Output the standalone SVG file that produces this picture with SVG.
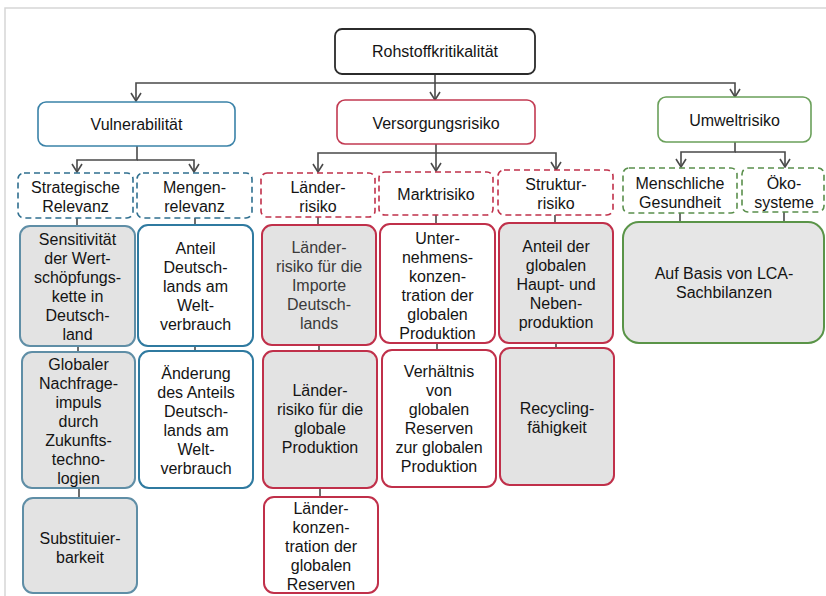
<svg xmlns="http://www.w3.org/2000/svg" width="826" height="596" viewBox="0 0 826 596">
<defs>
<style>
text{font-family:"Liberation Sans",Arial,sans-serif;font-size:16px;fill:#141414;text-anchor:middle}
.conn path{fill:none;stroke:#4a4a4a;stroke-width:1.6}
.root{fill:#fff;stroke:#2b2b2b;stroke-width:1.8}
.mb{fill:#fff;stroke:#3a82a8;stroke-width:1.6}
.mr{fill:#fff;stroke:#c23a52;stroke-width:1.6}
.mg{fill:#fff;stroke:#6aa05a;stroke-width:1.6}
.db{fill:#fff;stroke:#2f6f8f;stroke-width:1.6;stroke-dasharray:6 4}
.dr{fill:#fff;stroke:#c0304a;stroke-width:1.6;stroke-dasharray:6 4}
.dg{fill:#fff;stroke:#5a8f4c;stroke-width:1.6;stroke-dasharray:6 4}
.bw{fill:#fff;stroke:#2f7aa0;stroke-width:2}
.bg{fill:#e3e3e3;stroke:#5f8ea6;stroke-width:2}
.rw{fill:#fff;stroke:#c0304a;stroke-width:2}
.rg{fill:#e3e3e3;stroke:#c0304a;stroke-width:2}
.gg{fill:#e6e6e6;stroke:#5a9448;stroke-width:2}
</style>
<marker id="arr" viewBox="0 0 10 12" refX="9" refY="6" markerWidth="10" markerHeight="12" markerUnits="userSpaceOnUse" orient="auto">
<path d="M1,1 L9,6 L1,11" fill="none" stroke="#4a4a4a" stroke-width="1.6"/>
</marker>
</defs>
<rect x="0" y="0" width="826" height="596" fill="#fff"/>
<rect x="5" y="8" width="840" height="600" fill="none" stroke="#d6d6d6" stroke-width="1.5"/>

<g class="conn">
<path d="M435,74 V83 H136 V101" marker-end="url(#arr)"/>
<path d="M435,83 V100" marker-end="url(#arr)"/>
<path d="M435,83 H735 V97" marker-end="url(#arr)"/>
<path d="M137,146 V160 H77 V172" marker-end="url(#arr)"/>
<path d="M137,160 H194 V172" marker-end="url(#arr)"/>
<path d="M436,144 V153 H318 V172" marker-end="url(#arr)"/>
<path d="M436,153 V171" marker-end="url(#arr)"/>
<path d="M436,153 H556 V170" marker-end="url(#arr)"/>
<path d="M735,142 V152 H681 V167" marker-end="url(#arr)"/>
<path d="M735,152 H785 V167" marker-end="url(#arr)"/>
<path d="M77,218 V226 M78,346 V352 M79,488 V498"/>
<path d="M195,218 V225 M195,346 V351"/>
<path d="M318,216 V225 M319,345 V351 M320,488 V497"/>
<path d="M436,215 V224 M437,343 V350"/>
<path d="M555,215 V223 M556,343 V348"/>
<path d="M680,213 V222 M784,212 V222"/>
</g>

<g id="root"><rect class="root" x="335" y="29" width="200" height="45" rx="7"/><text x="435" y="57">Rohstoffkritikalität</text></g>
<g id="vulnerabilitaet"><rect class="mb" x="38" y="102" width="197" height="44" rx="8"/><text x="136.5" y="130">Vulnerabilität</text></g>
<g id="versorgungsrisiko"><rect class="mr" x="337" y="100" width="198" height="44" rx="8"/><text x="436" y="128.5">Versorgungsrisiko</text></g>
<g id="umweltrisiko"><rect class="mg" x="658" y="97" width="153" height="45" rx="8"/><text x="734.5" y="125.5">Umweltrisiko</text></g>

<g id="strategische"><rect class="db" x="18" y="173" width="115" height="45" rx="6"/><text x="75.5" y="192.5"><tspan x="75.5">Strategische</tspan><tspan x="75.5" dy="19">Relevanz</tspan></text></g>
<g id="mengen"><rect class="db" x="137" y="173" width="115" height="45" rx="6"/><text x="194.5" y="192.5"><tspan x="194.5">Mengen-</tspan><tspan x="194.5" dy="19">relevanz</tspan></text></g>
<g id="laenderrisiko"><rect class="dr" x="261" y="173" width="114" height="44" rx="6"/><text x="318" y="192.5"><tspan x="318">Länder-</tspan><tspan x="318" dy="19">risiko</tspan></text></g>
<g id="marktrisiko"><rect class="dr" x="379" y="172" width="114" height="43" rx="6"/><text x="436" y="199.5">Marktrisiko</text></g>
<g id="strukturrisiko"><rect class="dr" x="498" y="170" width="115" height="45" rx="6"/><text x="556" y="189.5"><tspan x="556">Struktur-</tspan><tspan x="556" dy="19">risiko</tspan></text></g>
<g id="gesundheit"><rect class="dg" x="623" y="168" width="114" height="45" rx="6"/><text x="680" y="188.5"><tspan x="680">Menschliche</tspan><tspan x="680" dy="19">Gesundheit</tspan></text></g>
<g id="oekosysteme"><rect class="dg" x="742" y="168" width="82" height="44" rx="6"/><text x="784" y="188.5"><tspan x="784">Öko-</tspan><tspan x="784" dy="19">systeme</tspan></text></g>

<g id="sensitivitaet"><rect class="bg" x="20" y="226" width="115" height="120" rx="10"/><text x="77.5" y="245"><tspan x="77.5">Sensitivität</tspan><tspan x="77.5" dy="19">der Wert-</tspan><tspan x="77.5" dy="19">schöpfungs-</tspan><tspan x="77.5" dy="19">kette in</tspan><tspan x="77.5" dy="19">Deutsch-</tspan><tspan x="77.5" dy="19">land</tspan></text></g>
<g id="anteil"><rect class="bw" x="138" y="225" width="115" height="121" rx="10"/><text x="195.5" y="253.5"><tspan x="195.5">Anteil</tspan><tspan x="195.5" dy="19">Deutsch-</tspan><tspan x="195.5" dy="19">lands am</tspan><tspan x="195.5" dy="19">Welt-</tspan><tspan x="195.5" dy="19">verbrauch</tspan></text></g>
<g id="nachfrage"><rect class="bg" x="22" y="352" width="113" height="136" rx="10"/><text x="78.5" y="369.5"><tspan x="78.5">Globaler</tspan><tspan x="78.5" dy="19">Nachfrage-</tspan><tspan x="78.5" dy="19">impuls</tspan><tspan x="78.5" dy="19">durch</tspan><tspan x="78.5" dy="19">Zukunfts-</tspan><tspan x="78.5" dy="19">techno-</tspan><tspan x="78.5" dy="19">logien</tspan></text></g>
<g id="aenderung"><rect class="bw" x="139" y="351" width="114" height="137" rx="10"/><text x="196" y="378.5"><tspan x="196">Änderung</tspan><tspan x="196" dy="19">des Anteils</tspan><tspan x="196" dy="19">Deutsch-</tspan><tspan x="196" dy="19">lands am</tspan><tspan x="196" dy="19">Welt-</tspan><tspan x="196" dy="19">verbrauch</tspan></text></g>
<g id="substituierbarkeit"><rect class="bg" x="23" y="498" width="114" height="95" rx="10"/><text x="80" y="543.5"><tspan x="80">Substituier-</tspan><tspan x="80" dy="19">barkeit</tspan></text></g>

<g id="importe"><rect class="rg" x="262" y="225" width="114" height="120" rx="10"/><text x="319" y="252.5" style="fill:#3a3a3a"><tspan x="319">Länder-</tspan><tspan x="319" dy="19">risiko für die</tspan><tspan x="319" dy="19">Importe</tspan><tspan x="319" dy="19">Deutsch-</tspan><tspan x="319" dy="19">lands</tspan></text></g>
<g id="unternehmen"><rect class="rw" x="380" y="224" width="115" height="119" rx="10"/><text x="437.5" y="243.5"><tspan x="437.5">Unter-</tspan><tspan x="437.5" dy="19">nehmens-</tspan><tspan x="437.5" dy="19">konzen-</tspan><tspan x="437.5" dy="19">tration der</tspan><tspan x="437.5" dy="19">globalen</tspan><tspan x="437.5" dy="19">Produktion</tspan></text></g>
<g id="anteilglobal"><rect class="rg" x="499" y="223" width="114" height="120" rx="10"/><text x="556" y="251.5"><tspan x="556">Anteil der</tspan><tspan x="556" dy="19">globalen</tspan><tspan x="556" dy="19">Haupt- und</tspan><tspan x="556" dy="19">Neben-</tspan><tspan x="556" dy="19">produktion</tspan></text></g>
<g id="globaleproduktion"><rect class="rg" x="263" y="351" width="114" height="137" rx="10"/><text x="320" y="395.5"><tspan x="320">Länder-</tspan><tspan x="320" dy="19">risiko für die</tspan><tspan x="320" dy="19">globale</tspan><tspan x="320" dy="19">Produktion</tspan></text></g>
<g id="verhaeltnis"><rect class="rw" x="382" y="350" width="114" height="137" rx="10"/><text x="439" y="376.5"><tspan x="439">Verhältnis</tspan><tspan x="439" dy="19">von</tspan><tspan x="439" dy="19">globalen</tspan><tspan x="439" dy="19">Reserven</tspan><tspan x="439" dy="19">zur globalen</tspan><tspan x="439" dy="19">Produktion</tspan></text></g>
<g id="recycling"><rect class="rg" x="500" y="348" width="114" height="137" rx="10"/><text x="557" y="413.5"><tspan x="557">Recycling-</tspan><tspan x="557" dy="19">fähigkeit</tspan></text></g>
<g id="laenderkonzentration"><rect class="rw" x="264" y="497" width="114" height="96" rx="10"/><text x="321" y="513.5"><tspan x="321">Länder-</tspan><tspan x="321" dy="19">konzen-</tspan><tspan x="321" dy="19">tration der</tspan><tspan x="321" dy="19">globalen</tspan><tspan x="321" dy="19">Reserven</tspan></text></g>

<g id="lca"><rect class="gg" x="623" y="222" width="201" height="121" rx="16"/><text x="724" y="278.5"><tspan x="724">Auf Basis von LCA-</tspan><tspan x="724" dy="19">Sachbilanzen</tspan></text></g>
</svg>
